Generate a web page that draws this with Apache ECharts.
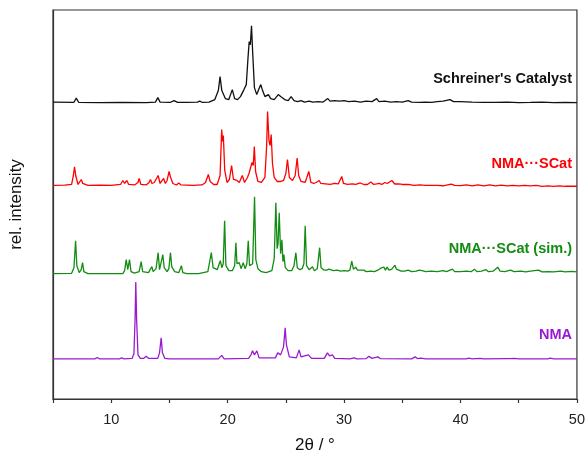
<!DOCTYPE html>
<html>
<head>
<meta charset="utf-8">
<script src="https://cdn.jsdelivr.net/npm/echarts@6/dist/echarts.min.js"></script>
<style>html,body{margin:0;padding:0;background:#fff;}#c{width:588px;height:459px;}</style>
</head>
<body>
<div id="c"></div>
<script>
// 2θ (deg) and relative intensity pairs
const schreiner = [[5.0,0.5],[6.8,0.3],[7.0,4.5],[7.2,0.3],[9.0,0],[11.0,0.3],[13.0,0],[13.8,0.5],[14.0,5],[14.2,0.5],[15.1,0.3],[15.4,2],[15.7,0.2],[16.5,0.3],[17.4,0.5],[17.6,1.5],[17.8,0.3],[18.4,0.5],[18.9,3],[19.2,12],[19.35,26],[19.5,12],[19.8,4],[20.1,3],[20.4,13],[20.6,4],[20.85,3],[21.1,6],[21.4,13],[21.6,18],[21.75,45],[21.85,61],[21.95,58],[22.05,77],[22.15,50],[22.3,15],[22.5,8],[22.7,14],[22.85,18],[23.0,12],[23.2,6],[23.5,8],[23.7,4],[24.0,3],[24.35,8],[24.55,6],[24.7,7],[24.9,3],[25.2,2],[25.45,6],[25.7,2],[26.0,1],[26.3,2],[26.6,0.5],[27.0,1.5],[27.3,0.5],[27.8,1],[28.2,0.5],[28.6,4],[28.8,1.5],[29.2,2],[29.6,1.5],[30.0,2],[30.4,1],[30.9,1.5],[31.4,0.5],[31.9,1.5],[32.4,1],[32.8,4],[33.0,1],[33.5,1.5],[34.0,0.5],[34.5,1],[35.0,0.5],[35.5,2],[35.8,0.5],[36.5,0.3],[37.0,0.5],[37.5,0.3],[38.0,1],[38.5,1.5],[39.1,3],[39.4,1],[40.0,1],[41.0,0.5],[42.0,0.3],[43.0,0.2],[44.0,0.5],[45.0,0],[46.0,0.2],[47.0,0.5],[48.0,0],[49.0,0.2],[50.0,0]];

const nmaScat = [[5.0,0],[6.0,0.3],[6.6,1],[6.75,10],[6.85,18.7],[6.95,10],[7.15,1],[7.3,3],[7.43,6],[7.55,2],[8.0,0],[9.0,0.3],[10.0,0],[10.8,1],[11.0,5],[11.15,2],[11.34,5],[11.5,1],[12.0,0.5],[12.3,3],[12.4,7],[12.55,1],[13.0,0.5],[13.25,3],[13.37,6],[13.5,2],[13.7,3],[13.85,4],[14.03,10],[14.2,2],[14.35,3],[14.5,7],[14.65,2],[14.8,5],[14.97,14],[15.1,8],[15.3,2],[15.6,0.5],[15.8,2.5],[16.0,0.5],[17.0,0],[17.8,0.5],[18.1,3],[18.34,11],[18.5,4],[18.8,1],[19.1,1],[19.35,10],[19.49,56],[19.56,44],[19.63,50],[19.75,15],[19.95,3],[20.15,6],[20.34,20],[20.5,6],[20.65,4],[20.8,5],[21.0,3],[21.26,10],[21.45,3],[21.7,8],[21.86,13],[22.0,12],[22.09,23],[22.2,20],[22.29,39],[22.4,14],[22.6,4],[22.9,3],[23.2,8],[23.35,40],[23.43,74],[23.55,45],[23.65,40],[23.74,51],[23.85,22],[24.0,8],[24.1,10],[24.25,4],[24.4,4],[24.57,4],[24.8,5],[25.0,12],[25.14,26],[25.3,8],[25.57,5],[25.8,10],[25.97,27.5],[26.1,10],[26.3,4],[26.43,5],[26.65,3],[26.8,8],[26.97,14],[27.15,3],[27.4,2],[27.6,3],[27.86,5],[28.0,2],[28.4,1.5],[28.8,1],[29.2,2],[29.5,1.5],[29.8,9],[29.95,2],[30.3,1],[30.7,1.5],[31.0,1],[31.4,2.5],[31.7,1],[32.0,1],[32.3,3.5],[32.55,1],[32.8,1.5],[33.0,2],[33.25,1],[33.5,3],[33.7,2],[34.1,5],[34.35,1.5],[34.7,1.5],[35.0,1],[35.5,1],[36.0,0],[36.5,0.5],[37.0,0],[37.5,0],[38.0,0],[38.5,-0.3],[39.2,1.3],[39.5,0],[40.0,-0.2],[40.5,0.5],[41.0,-0.3],[41.5,0.5],[42.0,-0.3],[42.5,0.5],[43.0,-0.3],[43.5,0.3],[44.0,-0.5],[44.5,0],[45.0,-0.5],[45.5,0],[46.0,-0.5],[46.5,0],[47.0,-0.8],[47.5,-0.3],[48.0,-0.8],[48.5,-0.3],[49.0,-0.8],[50.0,-0.8]];

const nmaScatSim = [[5.0,0],[6.6,0.3],[6.8,6],[6.94,33],[7.05,8],[7.25,1],[7.42,4],[7.54,11],[7.65,2],[8.0,0],[11.0,0],[11.15,3],[11.29,14],[11.42,4],[11.57,14],[11.7,2],[12.0,0.5],[12.4,2],[12.57,12],[12.7,2],[13.2,1],[13.49,7],[13.6,2],[13.85,5],[14.03,21],[14.15,4],[14.3,5],[14.43,19],[14.55,6],[14.66,8],[14.8,2],[14.95,5],[15.09,21],[15.2,7],[15.3,9],[15.45,2],[15.8,1],[16.03,8],[16.15,1],[16.5,0],[17.5,0],[18.3,2],[18.6,21],[18.75,6],[19.1,4],[19.37,13],[19.5,6],[19.62,10],[19.74,53],[19.85,8],[20.1,3],[20.4,3],[20.6,8],[20.71,31],[20.8,10],[21.0,11],[21.15,5],[21.34,11],[21.5,5],[21.65,10],[21.77,33],[21.88,8],[22.0,6],[22.15,10],[22.31,77],[22.42,14],[22.6,5],[22.74,7],[22.9,2],[23.3,1],[23.8,3],[24.0,15],[24.14,71],[24.25,25],[24.33,30],[24.43,61],[24.55,20],[24.66,34],[24.75,12],[24.83,19],[24.95,6],[25.2,3],[25.5,3],[25.7,8],[25.86,21],[25.98,6],[26.2,4],[26.4,5],[26.55,10],[26.66,48],[26.78,8],[27.0,4],[27.29,7],[27.45,3],[27.7,5],[27.9,26],[28.02,6],[28.3,3.5],[28.5,3.5],[28.7,4.5],[28.85,3.5],[29.1,3],[29.4,3.5],[29.7,2.5],[30.0,3],[30.3,2.5],[30.5,3.5],[30.66,12.5],[30.8,4.5],[31.0,6.5],[31.15,3.5],[31.4,3.5],[31.7,3.5],[31.9,2],[32.3,2.5],[32.6,2],[32.9,3.5],[33.14,5.5],[33.3,3.5],[33.43,6.5],[33.55,3.5],[33.7,6.5],[33.85,3.5],[34.1,4.5],[34.37,8.5],[34.5,4.5],[34.66,4.5],[34.9,2.5],[35.2,2.5],[35.5,3.5],[35.8,2],[36.2,2.5],[36.45,3.5],[36.7,3],[37.0,2],[37.5,2.5],[38.0,2],[38.5,3],[38.8,2],[39.3,4.5],[39.5,2],[40.0,2],[40.5,2.5],[40.9,2],[41.2,4.5],[41.4,2],[41.8,2.5],[42.2,4],[42.4,2],[42.8,2.5],[43.2,6.5],[43.4,2.5],[43.8,2],[44.3,3.5],[44.6,2],[45.2,2.5],[45.6,1.8],[46.0,2.5],[46.7,3.5],[47.0,1.8],[47.5,2],[48.0,1.8],[48.6,2.5],[49.0,1.8],[49.5,2.3],[50.0,1.8]];

const nma = [[5.0,0],[8.6,0],[8.8,1.3],[9.0,0],[10.7,0],[10.9,1],[11.1,0],[11.8,0.5],[11.95,5],[12.05,40],[12.11,77],[12.18,40],[12.3,4],[12.5,0.5],[12.8,0.5],[13.0,2.5],[13.2,0.5],[14.0,0.5],[14.15,6],[14.29,21],[14.4,6],[14.6,0.5],[15.0,0],[19.2,0],[19.49,3.5],[19.7,0],[21.8,0.5],[22.0,4],[22.14,8],[22.3,4],[22.51,8],[22.7,1],[24.1,1],[24.3,6],[24.43,8],[24.55,4],[24.8,12],[24.94,31],[25.05,14],[25.3,2],[25.9,1],[26.14,9],[26.3,2],[26.94,4],[27.2,0.5],[28.3,0.5],[28.57,6],[28.75,3],[29.0,4],[29.2,0.5],[30.5,0],[30.86,1],[31.1,0],[31.9,0.3],[32.14,2.5],[32.4,0.5],[32.9,2],[33.1,0.3],[35.8,0],[36.1,2],[36.3,0.3],[36.6,0.7],[37.0,0],[40.5,0],[40.7,0.7],[41.0,0],[41.7,0.5],[42.0,0],[44.0,0.3],[44.3,0.2],[44.6,0.5],[45.0,0],[47.5,0],[47.7,0.7],[48.0,0],[50.0,0]];

const seriesNames = ["Schreiner's Catalyst", "NMA\u00B7\u00B7\u00B7SCat", "NMA\u00B7\u00B7\u00B7SCat (sim.)", "NMA"];
const xTicks = [10, 20, 30, 40, 50];

// vertical stacking offsets (display only)
const offsets = [296.8, 213.8, 125.5, 40.2];
const colors = ['#111111', '#ff0000', '#128c12', '#9a1ad2'];
const sets = [schreiner, nmaScat, nmaScatSim, nma];

const chart = echarts.init(document.getElementById('c'), null, {renderer: 'canvas'});
const series = sets.map((d, i) => ({
  name: seriesNames[i],
  type: 'line',
  showSymbol: false,
  symbol: 'none',
  silent: true,
  data: d.map(p => [p[0], p[1] + offsets[i]]),
  lineStyle: {color: colors[i], width: 1.3},
  itemStyle: {color: colors[i]},
  z: 3
}));

const labelY = [80, 165.7, 250.7, 336.7];
const graphics = seriesNames.map((n, i) => ({
  type: 'text',
  right: 16,
  top: labelY[i] - 9,
  style: {text: n, fill: colors[i], font: 'bold 14.5px "Liberation Sans", Arial, sans-serif'}
}));

chart.setOption({
  animation: false,
  backgroundColor: '#fff',
  grid: {left: 53, right: 8.5, top: 10, bottom: 59.5, show: true, borderColor: '#333', borderWidth: 1.2, backgroundColor: 'transparent'},
  xAxis: {
    type: 'value', min: 5, max: 50, interval: 5,
    name: '2\u03B8 / \u00B0', nameLocation: 'middle', nameGap: 38,
    nameTextStyle: {fontSize: 17, color: '#111', fontFamily: 'Liberation Sans, Arial, sans-serif'},
    axisLine: {show: true, onZero: false, lineStyle: {color: '#333', width: 1.2}},
    axisTick: {show: true, inside: false, length: 4, lineStyle: {color: '#333', width: 1.2}},
    axisLabel: {color: '#222', fontSize: 14.5, margin: 13, fontFamily: 'Liberation Sans, Arial, sans-serif',
      formatter: v => (xTicks.indexOf(v) >= 0 ? String(v) : '')},
    splitLine: {show: false}
  },
  yAxis: {
    type: 'value', min: 0, max: 389.5,
    name: 'rel. intensity', nameLocation: 'middle', nameGap: 28,
    nameTextStyle: {fontSize: 17, color: '#111', fontFamily: 'Liberation Sans, Arial, sans-serif'},
    axisLine: {show: true, onZero: false, lineStyle: {color: '#333', width: 1.2}},
    axisTick: {show: false}, axisLabel: {show: false}, splitLine: {show: false}
  },
  series: series,
  graphic: graphics
});
</script>
</body>
</html>
